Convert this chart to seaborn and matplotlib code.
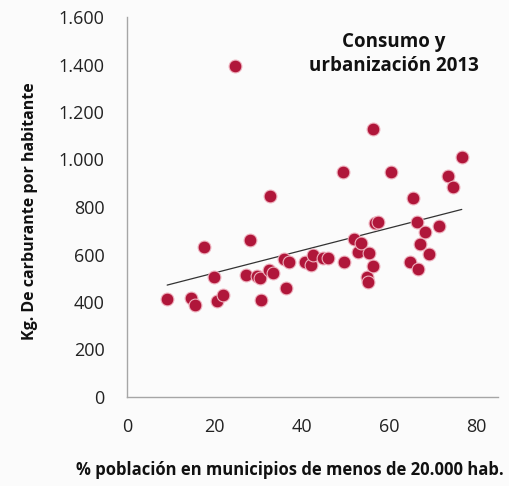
import numpy as np
import pandas as pd
import matplotlib
matplotlib.use('Agg')
import matplotlib.pyplot as plt
import matplotlib.ticker as mticker
import seaborn as sns

# % población en municipios < 20.000 hab. vs kg carburante por habitante
pct_rural = [9.2, 14.6, 15.6, 17.6, 20.0, 20.6, 22.0, 24.7, 27.2, 28.2,
             29.8, 30.4, 30.7, 32.5, 32.8, 33.4, 36.0, 36.4, 37.1, 40.8,
             42.2, 42.6, 44.9, 46.0, 49.5, 49.7, 52.0, 52.9, 53.6, 55.0,
             55.2, 55.4, 56.4, 56.4, 56.8, 57.5, 60.5, 64.8, 65.5, 66.4,
             66.7, 67.1, 68.3, 69.2, 71.5, 73.5, 74.7, 76.7]
kg_hab = [412, 416, 389, 630, 506, 404, 429, 1394, 514, 661,
          510, 500, 408, 535, 846, 522, 581, 459, 568, 568,
          556, 598, 585, 585, 947, 568, 665, 611, 649, 505,
          484, 606, 552, 1128, 733, 737, 947, 568, 838, 737,
          539, 644, 693, 602, 721, 930, 883, 1010]

df = pd.DataFrame({'pct': pct_rural, 'kg': kg_hab})

sns.set_style('white')
plt.rcParams['font.family'] = ['Open Sans', 'DejaVu Sans']

fig = plt.figure(figsize=(5.09, 4.86), dpi=100)
fig.patch.set_facecolor('#fbfbfb')
ax = fig.add_axes([127 / 509, 1 - 397 / 486, (498 - 127) / 509, (397 - 17) / 486])
ax.set_facecolor('#fbfbfb')

sns.regplot(data=df, x='pct', y='kg', ax=ax, ci=None, truncate=True,
            scatter_kws=dict(s=85, color='#b0163a', edgecolor='#eeb0bd', linewidths=0.8, alpha=1, zorder=3),
            line_kws=dict(color='#333333', lw=0.9, zorder=2))

ax.set_xlim(0, 85)
ax.set_ylim(0, 1600)
ax.set_xticks([0, 20, 40, 60, 80])
ax.set_yticks(range(0, 1601, 200))
ax.yaxis.set_major_formatter(mticker.FuncFormatter(lambda v, p: f'{int(v):,}'.replace(',', '.')))

for s in ['top', 'right']:
    ax.spines[s].set_visible(False)
for s in ['left', 'bottom']:
    ax.spines[s].set_color('#a6a6a6')
    ax.spines[s].set_linewidth(1.0)
ax.tick_params(axis='both', direction='out', length=6, width=1, color='#a6a6a6',
               labelsize=13, labelcolor='#222222')
ax.tick_params(axis='y', pad=10)
ax.tick_params(axis='x', pad=9)

ax.set_xlabel('')
ax.set_ylabel('')
fig.text(290 / 509, 1 - 470 / 486, '% población en municipios de menos de 20.000 hab.',
         ha='center', va='center', fontsize=12, fontweight='bold', color='#111111')
fig.text(30 / 509, 1 - 211 / 486, 'Kg. De carburante por habitante', rotation=90,
         ha='center', va='center', fontsize=11.5, fontweight='bold', color='#111111')
fig.text(394 / 509, 1 - 54 / 486, 'Consumo y\nurbanización 2013', ha='center', va='center',
         fontsize=13.5, fontweight='bold', color='#111111', linespacing=1.3)

fig.savefig('out.png', dpi=100, facecolor=fig.get_facecolor())
